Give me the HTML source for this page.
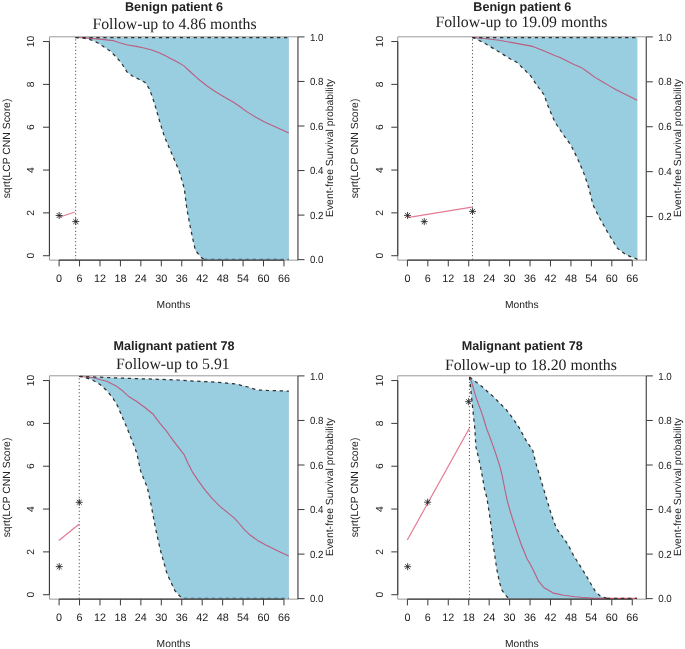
<!DOCTYPE html><html><head><meta charset="utf-8"><style>html,body{margin:0;padding:0;background:#fff;}svg{display:block;will-change:transform;text-rendering:geometricPrecision;}</style></head><body>
<svg width="685" height="649" viewBox="0 0 685 649" font-family='"Liberation Sans", sans-serif' fill="#222">
<polygon points="75.5,37.5 288.9,37.5 288.9,259.8 204.0,259.8 201.6,257.8 195.4,250.4 190.5,228.2 186.8,208.5 184.3,188.8 179.4,171.6 172.0,154.3 164.6,137.1 160.2,123.2 157.4,113.5 154.6,103.8 151.8,95.4 149.1,88.5 144.9,82.3 139.4,79.5 132.4,76.0 126.9,71.9 122.7,65.0 117.2,58.0 110.2,51.1 101.9,45.5 98.4,43.2 92.5,40.3 83.8,38.1 75.5,37.5" fill="#99cde0" stroke="none"/>
<polygon points="472.2,37.5 637.4,37.5 637.4,259.8 636.5,258.9 626.5,255.1 617.5,248.4 608.6,233.9 599.7,218.3 593.0,204.9 588.5,187.0 584.0,173.6 577.3,158.0 570.6,144.6 563.9,135.6 555.0,122.2 552.4,116.3 547.8,105.5 544.0,94.7 537.0,85.5 530.9,76.2 523.2,68.5 516.7,62.2 510.9,59.3 499.2,52.0 484.6,43.2 474.4,38.1 472.2,37.5" fill="#99cde0" stroke="none"/>
<polygon points="79.2,376.5 80.9,376.4 107.2,377.5 136.4,378.6 158.3,379.3 178.0,380.0 189.3,380.8 218.6,382.3 236.2,384.1 247.9,387.0 256.7,389.9 268.4,390.5 288.9,391.1 288.9,598.9 184.0,598.9 181.3,597.8 174.7,590.4 166.9,573.4 160.3,549.9 155.1,526.3 151.2,505.4 147.2,487.1 140.7,471.4 136.8,453.1 132.0,440.6 126.2,426.0 121.8,415.8 117.4,405.6 113.0,398.3 107.2,391.0 99.9,384.4 92.6,380.0 83.8,377.1 79.2,376.5" fill="#99cde0" stroke="none"/>
<polygon points="469.5,377.0 476.1,382.0 482.0,386.5 486.9,391.1 492.8,396.1 499.9,403.3 506.4,409.8 512.9,418.4 519.4,428.1 525.9,440.2 532.7,450.3 536.1,463.9 541.2,480.8 546.3,497.8 551.4,514.7 556.4,528.3 561.6,535.5 568.1,544.7 573.4,555.2 580.0,565.7 586.5,576.2 591.8,585.4 595.7,592.0 601.0,596.6 604.9,597.7 607.0,598.9 508.6,598.9 506.0,595.7 502.1,590.4 499.5,582.6 496.8,569.4 494.9,556.3 492.9,543.1 491.6,530.0 489.5,514.7 486.9,497.8 484.5,489.1 482.3,476.2 480.2,465.4 478.0,455.6 475.9,446.9 475.2,435.0 474.5,425.2 473.6,417.7 472.8,409.4 472.0,401.1 471.1,392.8 470.3,384.5 469.5,377.0" fill="#99cde0" stroke="none"/>
<g transform="translate(0,0)">
<path d="M49.45,36.8H297.95M49.45,260.15H297.95M49.45,36.8V260.15" stroke="#999" stroke-width="1" fill="none"/>
<line x1="49.45" y1="41.55" x2="49.45" y2="255.73" stroke="#3a3a3a" stroke-width="1.15"/>
<line x1="59.10" y1="260.15" x2="283.96" y2="260.15" stroke="#3a3a3a" stroke-width="1.1"/>
<line x1="297.95" y1="36.90" x2="297.95" y2="260.15" stroke="#3a3a3a" stroke-width="1.1"/>
<line x1="43" y1="255.73" x2="49.45" y2="255.73" stroke="#3a3a3a" stroke-width="1"/>
<text transform="translate(34.2,255.73) rotate(-90)" text-anchor="middle" font-size="10.3">0</text>
<line x1="43" y1="212.89" x2="49.45" y2="212.89" stroke="#3a3a3a" stroke-width="1"/>
<text transform="translate(34.2,212.89) rotate(-90)" text-anchor="middle" font-size="10.3">2</text>
<line x1="43" y1="170.06" x2="49.45" y2="170.06" stroke="#3a3a3a" stroke-width="1"/>
<text transform="translate(34.2,170.06) rotate(-90)" text-anchor="middle" font-size="10.3">4</text>
<line x1="43" y1="127.22" x2="49.45" y2="127.22" stroke="#3a3a3a" stroke-width="1"/>
<text transform="translate(34.2,127.22) rotate(-90)" text-anchor="middle" font-size="10.3">6</text>
<line x1="43" y1="84.39" x2="49.45" y2="84.39" stroke="#3a3a3a" stroke-width="1"/>
<text transform="translate(34.2,84.39) rotate(-90)" text-anchor="middle" font-size="10.3">8</text>
<line x1="43" y1="41.55" x2="49.45" y2="41.55" stroke="#3a3a3a" stroke-width="1"/>
<text transform="translate(34.2,41.55) rotate(-90)" text-anchor="middle" font-size="10.3">10</text>
<line x1="297.95" y1="259.65" x2="304.5" y2="259.65" stroke="#3a3a3a" stroke-width="1"/>
<text x="309.9" y="263.25" font-size="10.3" textLength="13.6" lengthAdjust="spacingAndGlyphs">0.0</text>
<line x1="297.95" y1="215.10" x2="304.5" y2="215.10" stroke="#3a3a3a" stroke-width="1"/>
<text x="309.9" y="218.70" font-size="10.3" textLength="13.6" lengthAdjust="spacingAndGlyphs">0.2</text>
<line x1="297.95" y1="170.55" x2="304.5" y2="170.55" stroke="#3a3a3a" stroke-width="1"/>
<text x="309.9" y="174.15" font-size="10.3" textLength="13.6" lengthAdjust="spacingAndGlyphs">0.4</text>
<line x1="297.95" y1="126.00" x2="304.5" y2="126.00" stroke="#3a3a3a" stroke-width="1"/>
<text x="309.9" y="129.60" font-size="10.3" textLength="13.6" lengthAdjust="spacingAndGlyphs">0.6</text>
<line x1="297.95" y1="81.45" x2="304.5" y2="81.45" stroke="#3a3a3a" stroke-width="1"/>
<text x="309.9" y="85.05" font-size="10.3" textLength="13.6" lengthAdjust="spacingAndGlyphs">0.8</text>
<line x1="297.95" y1="36.90" x2="304.5" y2="36.90" stroke="#3a3a3a" stroke-width="1"/>
<text x="309.9" y="40.50" font-size="10.3" textLength="13.6" lengthAdjust="spacingAndGlyphs">1.0</text>
<line x1="59.10" y1="260.15" x2="59.10" y2="266.4" stroke="#3a3a3a" stroke-width="1"/>
<text x="59.10" y="282.1" text-anchor="middle" font-size="10.8">0</text>
<line x1="79.54" y1="260.15" x2="79.54" y2="266.4" stroke="#3a3a3a" stroke-width="1"/>
<text x="79.54" y="282.1" text-anchor="middle" font-size="10.8">6</text>
<line x1="99.98" y1="260.15" x2="99.98" y2="266.4" stroke="#3a3a3a" stroke-width="1"/>
<text x="99.98" y="282.1" text-anchor="middle" font-size="10.8">12</text>
<line x1="120.43" y1="260.15" x2="120.43" y2="266.4" stroke="#3a3a3a" stroke-width="1"/>
<text x="120.43" y="282.1" text-anchor="middle" font-size="10.8">18</text>
<line x1="140.87" y1="260.15" x2="140.87" y2="266.4" stroke="#3a3a3a" stroke-width="1"/>
<text x="140.87" y="282.1" text-anchor="middle" font-size="10.8">24</text>
<line x1="161.31" y1="260.15" x2="161.31" y2="266.4" stroke="#3a3a3a" stroke-width="1"/>
<text x="161.31" y="282.1" text-anchor="middle" font-size="10.8">30</text>
<line x1="181.75" y1="260.15" x2="181.75" y2="266.4" stroke="#3a3a3a" stroke-width="1"/>
<text x="181.75" y="282.1" text-anchor="middle" font-size="10.8">36</text>
<line x1="202.19" y1="260.15" x2="202.19" y2="266.4" stroke="#3a3a3a" stroke-width="1"/>
<text x="202.19" y="282.1" text-anchor="middle" font-size="10.8">42</text>
<line x1="222.64" y1="260.15" x2="222.64" y2="266.4" stroke="#3a3a3a" stroke-width="1"/>
<text x="222.64" y="282.1" text-anchor="middle" font-size="10.8">48</text>
<line x1="243.08" y1="260.15" x2="243.08" y2="266.4" stroke="#3a3a3a" stroke-width="1"/>
<text x="243.08" y="282.1" text-anchor="middle" font-size="10.8">54</text>
<line x1="263.52" y1="260.15" x2="263.52" y2="266.4" stroke="#3a3a3a" stroke-width="1"/>
<text x="263.52" y="282.1" text-anchor="middle" font-size="10.8">60</text>
<line x1="283.96" y1="260.15" x2="283.96" y2="266.4" stroke="#3a3a3a" stroke-width="1"/>
<text x="283.96" y="282.1" text-anchor="middle" font-size="10.8">66</text>
<text x="173.5" y="307.6" text-anchor="middle" font-size="10.3">Months</text>
<text transform="translate(9.5,148.5) rotate(-90)" text-anchor="middle" font-size="10.4">sqrt(LCP CNN Score)</text>
<text transform="translate(333,148) rotate(-90)" text-anchor="middle" font-size="10.4">Event-free Survival probability</text>
<text x="174" y="10.9" text-anchor="middle" font-size="12.6" font-weight="bold">Benign patient 6</text>
<text x="174.5" y="28.6" text-anchor="middle" font-size="15.8" font-family='"Liberation Serif", serif'>Follow-up to 4.86 months</text>
<line x1="75.66" y1="37.5" x2="75.66" y2="259.5" stroke="#333" stroke-width="1" stroke-dasharray="1 2.48" stroke-dashoffset="1.55"/>
</g>
<g transform="translate(348.3,0)">
<path d="M49.45,36.8H297.95M49.45,260.15H297.95M49.45,36.8V260.15" stroke="#999" stroke-width="1" fill="none"/>
<line x1="49.45" y1="41.55" x2="49.45" y2="255.73" stroke="#3a3a3a" stroke-width="1.15"/>
<line x1="59.10" y1="260.15" x2="283.96" y2="260.15" stroke="#3a3a3a" stroke-width="1.1"/>
<line x1="297.95" y1="36.90" x2="297.95" y2="260.65" stroke="#3a3a3a" stroke-width="1.1"/>
<line x1="43" y1="255.73" x2="49.45" y2="255.73" stroke="#3a3a3a" stroke-width="1"/>
<text transform="translate(34.2,255.73) rotate(-90)" text-anchor="middle" font-size="10.3">0</text>
<line x1="43" y1="212.89" x2="49.45" y2="212.89" stroke="#3a3a3a" stroke-width="1"/>
<text transform="translate(34.2,212.89) rotate(-90)" text-anchor="middle" font-size="10.3">2</text>
<line x1="43" y1="170.06" x2="49.45" y2="170.06" stroke="#3a3a3a" stroke-width="1"/>
<text transform="translate(34.2,170.06) rotate(-90)" text-anchor="middle" font-size="10.3">4</text>
<line x1="43" y1="127.22" x2="49.45" y2="127.22" stroke="#3a3a3a" stroke-width="1"/>
<text transform="translate(34.2,127.22) rotate(-90)" text-anchor="middle" font-size="10.3">6</text>
<line x1="43" y1="84.39" x2="49.45" y2="84.39" stroke="#3a3a3a" stroke-width="1"/>
<text transform="translate(34.2,84.39) rotate(-90)" text-anchor="middle" font-size="10.3">8</text>
<line x1="43" y1="41.55" x2="49.45" y2="41.55" stroke="#3a3a3a" stroke-width="1"/>
<text transform="translate(34.2,41.55) rotate(-90)" text-anchor="middle" font-size="10.3">10</text>
<line x1="297.95" y1="216.58" x2="304.5" y2="216.58" stroke="#3a3a3a" stroke-width="1"/>
<text x="309.9" y="220.18" font-size="10.3" textLength="13.6" lengthAdjust="spacingAndGlyphs">0.2</text>
<line x1="297.95" y1="171.66" x2="304.5" y2="171.66" stroke="#3a3a3a" stroke-width="1"/>
<text x="309.9" y="175.26" font-size="10.3" textLength="13.6" lengthAdjust="spacingAndGlyphs">0.4</text>
<line x1="297.95" y1="126.74" x2="304.5" y2="126.74" stroke="#3a3a3a" stroke-width="1"/>
<text x="309.9" y="130.34" font-size="10.3" textLength="13.6" lengthAdjust="spacingAndGlyphs">0.6</text>
<line x1="297.95" y1="81.82" x2="304.5" y2="81.82" stroke="#3a3a3a" stroke-width="1"/>
<text x="309.9" y="85.42" font-size="10.3" textLength="13.6" lengthAdjust="spacingAndGlyphs">0.8</text>
<line x1="297.95" y1="36.90" x2="304.5" y2="36.90" stroke="#3a3a3a" stroke-width="1"/>
<text x="309.9" y="40.50" font-size="10.3" textLength="13.6" lengthAdjust="spacingAndGlyphs">1.0</text>
<line x1="59.10" y1="260.15" x2="59.10" y2="266.4" stroke="#3a3a3a" stroke-width="1"/>
<text x="59.10" y="282.1" text-anchor="middle" font-size="10.8">0</text>
<line x1="79.54" y1="260.15" x2="79.54" y2="266.4" stroke="#3a3a3a" stroke-width="1"/>
<text x="79.54" y="282.1" text-anchor="middle" font-size="10.8">6</text>
<line x1="99.98" y1="260.15" x2="99.98" y2="266.4" stroke="#3a3a3a" stroke-width="1"/>
<text x="99.98" y="282.1" text-anchor="middle" font-size="10.8">12</text>
<line x1="120.43" y1="260.15" x2="120.43" y2="266.4" stroke="#3a3a3a" stroke-width="1"/>
<text x="120.43" y="282.1" text-anchor="middle" font-size="10.8">18</text>
<line x1="140.87" y1="260.15" x2="140.87" y2="266.4" stroke="#3a3a3a" stroke-width="1"/>
<text x="140.87" y="282.1" text-anchor="middle" font-size="10.8">24</text>
<line x1="161.31" y1="260.15" x2="161.31" y2="266.4" stroke="#3a3a3a" stroke-width="1"/>
<text x="161.31" y="282.1" text-anchor="middle" font-size="10.8">30</text>
<line x1="181.75" y1="260.15" x2="181.75" y2="266.4" stroke="#3a3a3a" stroke-width="1"/>
<text x="181.75" y="282.1" text-anchor="middle" font-size="10.8">36</text>
<line x1="202.19" y1="260.15" x2="202.19" y2="266.4" stroke="#3a3a3a" stroke-width="1"/>
<text x="202.19" y="282.1" text-anchor="middle" font-size="10.8">42</text>
<line x1="222.64" y1="260.15" x2="222.64" y2="266.4" stroke="#3a3a3a" stroke-width="1"/>
<text x="222.64" y="282.1" text-anchor="middle" font-size="10.8">48</text>
<line x1="243.08" y1="260.15" x2="243.08" y2="266.4" stroke="#3a3a3a" stroke-width="1"/>
<text x="243.08" y="282.1" text-anchor="middle" font-size="10.8">54</text>
<line x1="263.52" y1="260.15" x2="263.52" y2="266.4" stroke="#3a3a3a" stroke-width="1"/>
<text x="263.52" y="282.1" text-anchor="middle" font-size="10.8">60</text>
<line x1="283.96" y1="260.15" x2="283.96" y2="266.4" stroke="#3a3a3a" stroke-width="1"/>
<text x="283.96" y="282.1" text-anchor="middle" font-size="10.8">66</text>
<text x="173.5" y="307.6" text-anchor="middle" font-size="10.3">Months</text>
<text transform="translate(9.5,148.5) rotate(-90)" text-anchor="middle" font-size="10.4">sqrt(LCP CNN Score)</text>
<text transform="translate(333,148) rotate(-90)" text-anchor="middle" font-size="10.4">Event-free Survival probability</text>
<text x="174" y="10.9" text-anchor="middle" font-size="12.6" font-weight="bold">Benign patient 6</text>
<text x="173.1" y="27.1" text-anchor="middle" font-size="15.8" font-family='"Liberation Serif", serif'>Follow-up to 19.09 months</text>
<line x1="124.14" y1="37.5" x2="124.14" y2="259.5" stroke="#333" stroke-width="1" stroke-dasharray="1 2.48" stroke-dashoffset="1.55"/>
</g>
<g transform="translate(0,339)">
<path d="M49.45,36.8H297.95M49.45,260.15H297.95M49.45,36.8V260.15" stroke="#999" stroke-width="1" fill="none"/>
<line x1="49.45" y1="41.55" x2="49.45" y2="255.73" stroke="#3a3a3a" stroke-width="1.15"/>
<line x1="59.10" y1="260.15" x2="283.96" y2="260.15" stroke="#3a3a3a" stroke-width="1.1"/>
<line x1="297.95" y1="36.90" x2="297.95" y2="260.15" stroke="#3a3a3a" stroke-width="1.1"/>
<line x1="43" y1="255.73" x2="49.45" y2="255.73" stroke="#3a3a3a" stroke-width="1"/>
<text transform="translate(34.2,255.73) rotate(-90)" text-anchor="middle" font-size="10.3">0</text>
<line x1="43" y1="212.89" x2="49.45" y2="212.89" stroke="#3a3a3a" stroke-width="1"/>
<text transform="translate(34.2,212.89) rotate(-90)" text-anchor="middle" font-size="10.3">2</text>
<line x1="43" y1="170.06" x2="49.45" y2="170.06" stroke="#3a3a3a" stroke-width="1"/>
<text transform="translate(34.2,170.06) rotate(-90)" text-anchor="middle" font-size="10.3">4</text>
<line x1="43" y1="127.22" x2="49.45" y2="127.22" stroke="#3a3a3a" stroke-width="1"/>
<text transform="translate(34.2,127.22) rotate(-90)" text-anchor="middle" font-size="10.3">6</text>
<line x1="43" y1="84.39" x2="49.45" y2="84.39" stroke="#3a3a3a" stroke-width="1"/>
<text transform="translate(34.2,84.39) rotate(-90)" text-anchor="middle" font-size="10.3">8</text>
<line x1="43" y1="41.55" x2="49.45" y2="41.55" stroke="#3a3a3a" stroke-width="1"/>
<text transform="translate(34.2,41.55) rotate(-90)" text-anchor="middle" font-size="10.3">10</text>
<line x1="297.95" y1="259.65" x2="304.5" y2="259.65" stroke="#3a3a3a" stroke-width="1"/>
<text x="309.9" y="263.25" font-size="10.3" textLength="13.6" lengthAdjust="spacingAndGlyphs">0.0</text>
<line x1="297.95" y1="215.10" x2="304.5" y2="215.10" stroke="#3a3a3a" stroke-width="1"/>
<text x="309.9" y="218.70" font-size="10.3" textLength="13.6" lengthAdjust="spacingAndGlyphs">0.2</text>
<line x1="297.95" y1="170.55" x2="304.5" y2="170.55" stroke="#3a3a3a" stroke-width="1"/>
<text x="309.9" y="174.15" font-size="10.3" textLength="13.6" lengthAdjust="spacingAndGlyphs">0.4</text>
<line x1="297.95" y1="126.00" x2="304.5" y2="126.00" stroke="#3a3a3a" stroke-width="1"/>
<text x="309.9" y="129.60" font-size="10.3" textLength="13.6" lengthAdjust="spacingAndGlyphs">0.6</text>
<line x1="297.95" y1="81.45" x2="304.5" y2="81.45" stroke="#3a3a3a" stroke-width="1"/>
<text x="309.9" y="85.05" font-size="10.3" textLength="13.6" lengthAdjust="spacingAndGlyphs">0.8</text>
<line x1="297.95" y1="36.90" x2="304.5" y2="36.90" stroke="#3a3a3a" stroke-width="1"/>
<text x="309.9" y="40.50" font-size="10.3" textLength="13.6" lengthAdjust="spacingAndGlyphs">1.0</text>
<line x1="59.10" y1="260.15" x2="59.10" y2="266.4" stroke="#3a3a3a" stroke-width="1"/>
<text x="59.10" y="282.1" text-anchor="middle" font-size="10.8">0</text>
<line x1="79.54" y1="260.15" x2="79.54" y2="266.4" stroke="#3a3a3a" stroke-width="1"/>
<text x="79.54" y="282.1" text-anchor="middle" font-size="10.8">6</text>
<line x1="99.98" y1="260.15" x2="99.98" y2="266.4" stroke="#3a3a3a" stroke-width="1"/>
<text x="99.98" y="282.1" text-anchor="middle" font-size="10.8">12</text>
<line x1="120.43" y1="260.15" x2="120.43" y2="266.4" stroke="#3a3a3a" stroke-width="1"/>
<text x="120.43" y="282.1" text-anchor="middle" font-size="10.8">18</text>
<line x1="140.87" y1="260.15" x2="140.87" y2="266.4" stroke="#3a3a3a" stroke-width="1"/>
<text x="140.87" y="282.1" text-anchor="middle" font-size="10.8">24</text>
<line x1="161.31" y1="260.15" x2="161.31" y2="266.4" stroke="#3a3a3a" stroke-width="1"/>
<text x="161.31" y="282.1" text-anchor="middle" font-size="10.8">30</text>
<line x1="181.75" y1="260.15" x2="181.75" y2="266.4" stroke="#3a3a3a" stroke-width="1"/>
<text x="181.75" y="282.1" text-anchor="middle" font-size="10.8">36</text>
<line x1="202.19" y1="260.15" x2="202.19" y2="266.4" stroke="#3a3a3a" stroke-width="1"/>
<text x="202.19" y="282.1" text-anchor="middle" font-size="10.8">42</text>
<line x1="222.64" y1="260.15" x2="222.64" y2="266.4" stroke="#3a3a3a" stroke-width="1"/>
<text x="222.64" y="282.1" text-anchor="middle" font-size="10.8">48</text>
<line x1="243.08" y1="260.15" x2="243.08" y2="266.4" stroke="#3a3a3a" stroke-width="1"/>
<text x="243.08" y="282.1" text-anchor="middle" font-size="10.8">54</text>
<line x1="263.52" y1="260.15" x2="263.52" y2="266.4" stroke="#3a3a3a" stroke-width="1"/>
<text x="263.52" y="282.1" text-anchor="middle" font-size="10.8">60</text>
<line x1="283.96" y1="260.15" x2="283.96" y2="266.4" stroke="#3a3a3a" stroke-width="1"/>
<text x="283.96" y="282.1" text-anchor="middle" font-size="10.8">66</text>
<text x="173.5" y="307.6" text-anchor="middle" font-size="10.3">Months</text>
<text transform="translate(9.5,148.5) rotate(-90)" text-anchor="middle" font-size="10.4">sqrt(LCP CNN Score)</text>
<text transform="translate(333,148) rotate(-90)" text-anchor="middle" font-size="10.4">Event-free Survival probability</text>
<text x="174" y="10.9" text-anchor="middle" font-size="12.6" font-weight="bold">Malignant patient 78</text>
<text x="172.9" y="29.9" text-anchor="middle" font-size="15.8" font-family='"Liberation Serif", serif'>Follow-up to 5.91</text>
<line x1="79.24" y1="37.5" x2="79.24" y2="259.5" stroke="#333" stroke-width="1" stroke-dasharray="1 2.48" stroke-dashoffset="1.55"/>
</g>
<g transform="translate(348.3,339)">
<path d="M49.45,36.8H297.95M49.45,260.15H297.95M49.45,36.8V260.15" stroke="#999" stroke-width="1" fill="none"/>
<line x1="49.45" y1="41.55" x2="49.45" y2="255.73" stroke="#3a3a3a" stroke-width="1.15"/>
<line x1="59.10" y1="260.15" x2="283.96" y2="260.15" stroke="#3a3a3a" stroke-width="1.1"/>
<line x1="297.95" y1="36.90" x2="297.95" y2="260.15" stroke="#3a3a3a" stroke-width="1.1"/>
<line x1="43" y1="255.73" x2="49.45" y2="255.73" stroke="#3a3a3a" stroke-width="1"/>
<text transform="translate(34.2,255.73) rotate(-90)" text-anchor="middle" font-size="10.3">0</text>
<line x1="43" y1="212.89" x2="49.45" y2="212.89" stroke="#3a3a3a" stroke-width="1"/>
<text transform="translate(34.2,212.89) rotate(-90)" text-anchor="middle" font-size="10.3">2</text>
<line x1="43" y1="170.06" x2="49.45" y2="170.06" stroke="#3a3a3a" stroke-width="1"/>
<text transform="translate(34.2,170.06) rotate(-90)" text-anchor="middle" font-size="10.3">4</text>
<line x1="43" y1="127.22" x2="49.45" y2="127.22" stroke="#3a3a3a" stroke-width="1"/>
<text transform="translate(34.2,127.22) rotate(-90)" text-anchor="middle" font-size="10.3">6</text>
<line x1="43" y1="84.39" x2="49.45" y2="84.39" stroke="#3a3a3a" stroke-width="1"/>
<text transform="translate(34.2,84.39) rotate(-90)" text-anchor="middle" font-size="10.3">8</text>
<line x1="43" y1="41.55" x2="49.45" y2="41.55" stroke="#3a3a3a" stroke-width="1"/>
<text transform="translate(34.2,41.55) rotate(-90)" text-anchor="middle" font-size="10.3">10</text>
<line x1="297.95" y1="259.65" x2="304.5" y2="259.65" stroke="#3a3a3a" stroke-width="1"/>
<text x="309.9" y="263.25" font-size="10.3" textLength="13.6" lengthAdjust="spacingAndGlyphs">0.0</text>
<line x1="297.95" y1="215.10" x2="304.5" y2="215.10" stroke="#3a3a3a" stroke-width="1"/>
<text x="309.9" y="218.70" font-size="10.3" textLength="13.6" lengthAdjust="spacingAndGlyphs">0.2</text>
<line x1="297.95" y1="170.55" x2="304.5" y2="170.55" stroke="#3a3a3a" stroke-width="1"/>
<text x="309.9" y="174.15" font-size="10.3" textLength="13.6" lengthAdjust="spacingAndGlyphs">0.4</text>
<line x1="297.95" y1="126.00" x2="304.5" y2="126.00" stroke="#3a3a3a" stroke-width="1"/>
<text x="309.9" y="129.60" font-size="10.3" textLength="13.6" lengthAdjust="spacingAndGlyphs">0.6</text>
<line x1="297.95" y1="81.45" x2="304.5" y2="81.45" stroke="#3a3a3a" stroke-width="1"/>
<text x="309.9" y="85.05" font-size="10.3" textLength="13.6" lengthAdjust="spacingAndGlyphs">0.8</text>
<line x1="297.95" y1="36.90" x2="304.5" y2="36.90" stroke="#3a3a3a" stroke-width="1"/>
<text x="309.9" y="40.50" font-size="10.3" textLength="13.6" lengthAdjust="spacingAndGlyphs">1.0</text>
<line x1="59.10" y1="260.15" x2="59.10" y2="266.4" stroke="#3a3a3a" stroke-width="1"/>
<text x="59.10" y="282.1" text-anchor="middle" font-size="10.8">0</text>
<line x1="79.54" y1="260.15" x2="79.54" y2="266.4" stroke="#3a3a3a" stroke-width="1"/>
<text x="79.54" y="282.1" text-anchor="middle" font-size="10.8">6</text>
<line x1="99.98" y1="260.15" x2="99.98" y2="266.4" stroke="#3a3a3a" stroke-width="1"/>
<text x="99.98" y="282.1" text-anchor="middle" font-size="10.8">12</text>
<line x1="120.43" y1="260.15" x2="120.43" y2="266.4" stroke="#3a3a3a" stroke-width="1"/>
<text x="120.43" y="282.1" text-anchor="middle" font-size="10.8">18</text>
<line x1="140.87" y1="260.15" x2="140.87" y2="266.4" stroke="#3a3a3a" stroke-width="1"/>
<text x="140.87" y="282.1" text-anchor="middle" font-size="10.8">24</text>
<line x1="161.31" y1="260.15" x2="161.31" y2="266.4" stroke="#3a3a3a" stroke-width="1"/>
<text x="161.31" y="282.1" text-anchor="middle" font-size="10.8">30</text>
<line x1="181.75" y1="260.15" x2="181.75" y2="266.4" stroke="#3a3a3a" stroke-width="1"/>
<text x="181.75" y="282.1" text-anchor="middle" font-size="10.8">36</text>
<line x1="202.19" y1="260.15" x2="202.19" y2="266.4" stroke="#3a3a3a" stroke-width="1"/>
<text x="202.19" y="282.1" text-anchor="middle" font-size="10.8">42</text>
<line x1="222.64" y1="260.15" x2="222.64" y2="266.4" stroke="#3a3a3a" stroke-width="1"/>
<text x="222.64" y="282.1" text-anchor="middle" font-size="10.8">48</text>
<line x1="243.08" y1="260.15" x2="243.08" y2="266.4" stroke="#3a3a3a" stroke-width="1"/>
<text x="243.08" y="282.1" text-anchor="middle" font-size="10.8">54</text>
<line x1="263.52" y1="260.15" x2="263.52" y2="266.4" stroke="#3a3a3a" stroke-width="1"/>
<text x="263.52" y="282.1" text-anchor="middle" font-size="10.8">60</text>
<line x1="283.96" y1="260.15" x2="283.96" y2="266.4" stroke="#3a3a3a" stroke-width="1"/>
<text x="283.96" y="282.1" text-anchor="middle" font-size="10.8">66</text>
<text x="173.5" y="307.6" text-anchor="middle" font-size="10.3">Months</text>
<text transform="translate(9.5,148.5) rotate(-90)" text-anchor="middle" font-size="10.4">sqrt(LCP CNN Score)</text>
<text transform="translate(333,148) rotate(-90)" text-anchor="middle" font-size="10.4">Event-free Survival probability</text>
<text x="174" y="10.9" text-anchor="middle" font-size="12.6" font-weight="bold">Malignant patient 78</text>
<text x="182.6" y="30.5" text-anchor="middle" font-size="15.8" font-family='"Liberation Serif", serif'>Follow-up to 18.20 months</text>
<line x1="121.11" y1="37.5" x2="121.11" y2="259.5" stroke="#333" stroke-width="1" stroke-dasharray="1 2.48" stroke-dashoffset="1.55"/>
</g>
<polyline points="75.5,37.5 89.6,38.1 104.2,39.6 113.0,40.6 118.8,42.5 127.6,45.0 136.3,46.4 145.1,48.3 152.4,50.2 159.7,53.1 167.0,56.6 170.0,58.2 177.0,61.7 184.0,65.9 191.0,72.5 198.0,78.7 206.8,85.7 215.5,91.8 224.3,97.0 233.1,102.0 240.1,106.7 247.1,111.9 255.8,117.2 264.6,121.9 275.1,126.8 288.9,133.0" fill="none" stroke="#d21a44" stroke-opacity="0.62" stroke-width="1.1" stroke-linejoin="round"/>
<polyline points="472.2,37.5 484.6,38.5 499.2,40.3 513.8,42.9 532.8,46.4 543.0,50.5 554.7,55.6 560.0,57.6 567.0,61.1 574.0,64.6 582.2,68.1 588.0,72.2 595.0,77.4 602.0,81.5 609.0,85.6 616.1,89.7 624.2,93.8 637.2,100.3" fill="none" stroke="#d21a44" stroke-opacity="0.62" stroke-width="1.1" stroke-linejoin="round"/>
<polyline points="79.2,376.5 92.6,377.5 107.2,381.5 116.0,385.9 121.8,390.2 129.1,396.8 136.4,401.2 145.2,407.8 153.2,414.3 159.8,423.1 167.1,431.9 170.0,436.2 176.9,445.3 183.9,454.3 188.0,463.3 192.2,471.6 197.7,479.9 204.7,489.6 211.6,497.9 219.9,506.3 228.2,513.2 234.1,517.9 239.2,523.5 244.3,529.6 250.4,535.3 257.6,540.4 265.8,545.0 273.9,549.0 281.1,552.4 288.9,555.9" fill="none" stroke="#d21a44" stroke-opacity="0.62" stroke-width="1.1" stroke-linejoin="round"/>
<polyline points="469.5,376.8 471.1,380.3 472.8,386.1 474.9,393.6 477.0,400.3 479.5,406.9 482.0,413.6 484.0,420.0 486.6,428.6 489.9,437.3 493.1,445.9 496.4,455.6 499.6,465.4 502.3,476.2 504.9,489.5 507.3,500.9 510.4,512.0 513.5,521.9 517.2,533.0 521.5,545.3 524.4,552.3 527.0,558.8 530.3,564.2 534.3,572.0 538.2,580.6 544.1,587.8 553.3,593.1 563.8,595.3 575.0,596.7 581.3,597.3 594.4,598.2 636.5,598.4" fill="none" stroke="#d21a44" stroke-opacity="0.62" stroke-width="1.1" stroke-linejoin="round"/>
<polyline points="75.5,37.5 288.9,37.5" fill="none" stroke="#303030" stroke-width="1.25" stroke-dasharray="3.3 3.65"/>
<polyline points="75.5,37.5 83.8,38.1 92.5,40.3 98.4,43.2 101.9,45.5 110.2,51.1 117.2,58.0 122.7,65.0 126.9,71.9 132.4,76.0 139.4,79.5 144.9,82.3 149.1,88.5 151.8,95.4 154.6,103.8 157.4,113.5 160.2,123.2 164.6,137.1 172.0,154.3 179.4,171.6 184.3,188.8 186.8,208.5 190.5,228.2 195.4,250.4 201.6,257.8 204.0,259.4" fill="none" stroke="#303030" stroke-width="1.25" stroke-dasharray="3.3 3.65"/>
<polyline points="204.0,259.4 288.9,259.4" fill="none" stroke="#4a6670" stroke-width="1.1" stroke-dasharray="3.3 3.65"/>
<polyline points="472.2,37.5 637.4,37.5" fill="none" stroke="#303030" stroke-width="1.25" stroke-dasharray="3.3 3.65"/>
<polyline points="472.2,37.5 474.4,38.1 484.6,43.2 499.2,52.0 510.9,59.3 516.7,62.2 523.2,68.5 530.9,76.2 537.0,85.5 544.0,94.7 547.8,105.5 552.4,116.3 555.0,122.2 563.9,135.6 570.6,144.6 577.3,158.0 584.0,173.6 588.5,187.0 593.0,204.9 599.7,218.3 608.6,233.9 617.5,248.4 626.5,255.1 636.5,258.9 637.4,259.4" fill="none" stroke="#303030" stroke-width="1.25" stroke-dasharray="3.3 3.65"/>
<polyline points="79.2,376.5 80.9,376.4 107.2,377.5 136.4,378.6 158.3,379.3 178.0,380.0 189.3,380.8 218.6,382.3 236.2,384.1 247.9,387.0 256.7,389.9 268.4,390.5 288.9,391.1" fill="none" stroke="#303030" stroke-width="1.25" stroke-dasharray="3.3 3.65"/>
<polyline points="79.2,376.5 83.8,377.1 92.6,380.0 99.9,384.4 107.2,391.0 113.0,398.3 117.4,405.6 121.8,415.8 126.2,426.0 132.0,440.6 136.8,453.1 140.7,471.4 147.2,487.1 151.2,505.4 155.1,526.3 160.3,549.9 166.9,573.4 174.7,590.4 181.3,597.8 184.0,598.4" fill="none" stroke="#303030" stroke-width="1.25" stroke-dasharray="3.3 3.65"/>
<polyline points="184.0,598.4 288.9,598.4" fill="none" stroke="#4a6670" stroke-width="1.1" stroke-dasharray="3.3 3.65"/>
<polyline points="469.5,377.0 476.1,382.0 482.0,386.5 486.9,391.1 492.8,396.1 499.9,403.3 506.4,409.8 512.9,418.4 519.4,428.1 525.9,440.2 532.7,450.3 536.1,463.9 541.2,480.8 546.3,497.8 551.4,514.7 556.4,528.3 561.6,535.5 568.1,544.7 573.4,555.2 580.0,565.7 586.5,576.2 591.8,585.4 595.7,592.0 601.0,596.6 604.9,597.7 607.0,598.4" fill="none" stroke="#303030" stroke-width="1.25" stroke-dasharray="3.3 3.65"/>
<polyline points="469.5,377.0 470.3,384.5 471.1,392.8 472.0,401.1 472.8,409.4 473.6,417.7 474.5,425.2 475.2,435.0 475.9,446.9 478.0,455.6 480.2,465.4 482.3,476.2 484.5,489.1 486.9,497.8 489.5,514.7 491.6,530.0 492.9,543.1 494.9,556.3 496.8,569.4 499.5,582.6 502.1,590.4 506.0,595.7 508.6,598.4" fill="none" stroke="#303030" stroke-width="1.25" stroke-dasharray="3.3 3.65"/>
<polyline points="607,598.4 637,598.4" fill="none" stroke="#303030" stroke-width="1.1" stroke-dasharray="3.3 3.65"/>
<line x1="59.3" y1="217.2" x2="74.8" y2="212" stroke="#d21a44" stroke-opacity="0.58" stroke-width="1.2"/>
<line x1="407.4" y1="217.7" x2="471.8" y2="207.1" stroke="#d21a44" stroke-opacity="0.58" stroke-width="1.2"/>
<line x1="58.9" y1="540.5" x2="78.9" y2="524.3" stroke="#d21a44" stroke-opacity="0.58" stroke-width="1.2"/>
<line x1="407.3" y1="540" x2="469.2" y2="428.5" stroke="#d21a44" stroke-opacity="0.58" stroke-width="1.2"/>
<path d="M55.65,215.50H62.65M59.15,212.00V219.00M56.68,213.03L61.62,217.97M56.68,217.97L61.62,213.03" stroke="#222" stroke-width="0.85" fill="none"/>
<path d="M72.25,221.60H79.25M75.75,218.10V225.10M73.28,219.13L78.22,224.07M73.28,224.07L78.22,219.13" stroke="#222" stroke-width="0.85" fill="none"/>
<path d="M404.05,215.40H411.05M407.55,211.90V218.90M405.08,212.93L410.02,217.87M405.08,217.87L410.02,212.93" stroke="#222" stroke-width="0.85" fill="none"/>
<path d="M420.75,221.60H427.75M424.25,218.10V225.10M421.78,219.13L426.72,224.07M421.78,224.07L426.72,219.13" stroke="#222" stroke-width="0.85" fill="none"/>
<path d="M469.05,211.40H476.05M472.55,207.90V214.90M470.08,208.93L475.02,213.87M470.08,213.87L475.02,208.93" stroke="#222" stroke-width="0.85" fill="none"/>
<path d="M55.75,566.60H62.75M59.25,563.10V570.10M56.78,564.13L61.72,569.07M56.78,569.07L61.72,564.13" stroke="#222" stroke-width="0.85" fill="none"/>
<path d="M75.75,502.30H82.75M79.25,498.80V505.80M76.78,499.83L81.72,504.77M76.78,504.77L81.72,499.83" stroke="#222" stroke-width="0.85" fill="none"/>
<path d="M404.15,566.70H411.15M407.65,563.20V570.20M405.18,564.23L410.12,569.17M405.18,569.17L410.12,564.23" stroke="#222" stroke-width="0.85" fill="none"/>
<path d="M424.15,502.20H431.15M427.65,498.70V505.70M425.18,499.73L430.12,504.67M425.18,504.67L430.12,499.73" stroke="#222" stroke-width="0.85" fill="none"/>
<path d="M465.15,401.70H472.15M468.65,398.20V405.20M466.18,399.23L471.12,404.17M466.18,404.17L471.12,399.23" stroke="#222" stroke-width="0.85" fill="none"/>
</svg></body></html>
